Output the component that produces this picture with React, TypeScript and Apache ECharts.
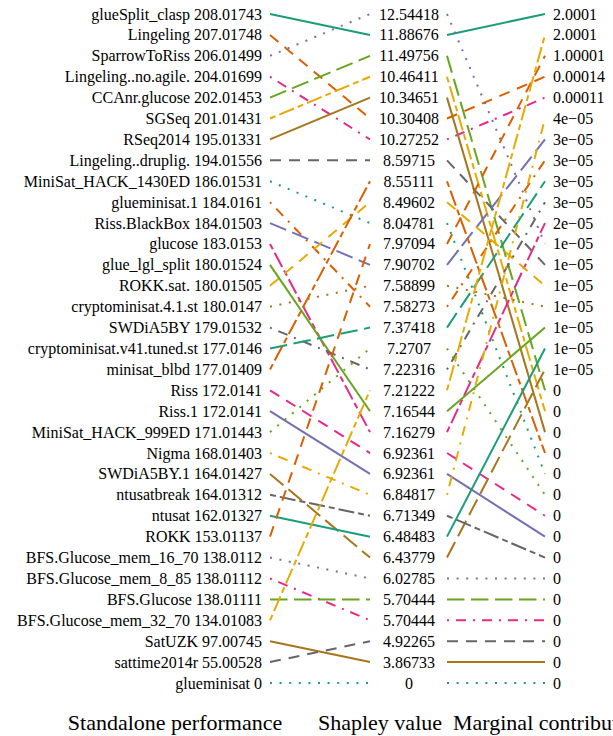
import React, { useEffect, useRef } from "react";
import * as echarts from "echarts";

// Solvers in order of standalone performance (top to bottom)
const solvers = [
  "glueSplit_clasp", "Lingeling", "SparrowToRiss", "Lingeling..no.agile.", "CCAnr.glucose",
  "SGSeq", "RSeq2014", "Lingeling..druplig.", "MiniSat_HACK_1430ED", "glueminisat.1",
  "Riss.BlackBox", "glucose", "glue_lgl_split", "ROKK.sat.", "cryptominisat.4.1.st",
  "SWDiA5BY", "cryptominisat.v41.tuned.st", "minisat_blbd", "Riss", "Riss.1",
  "MiniSat_HACK_999ED", "Nigma", "SWDiA5BY.1", "ntusatbreak", "ntusat",
  "ROKK", "BFS.Glucose_mem_16_70", "BFS.Glucose_mem_8_85", "BFS.Glucose", "BFS.Glucose_mem_32_70",
  "SatUZK", "sattime2014r", "glueminisat",
];

const standalone = [
  208.01743, 207.01748, 206.01499, 204.01699, 202.01453,
  201.01431, 195.01331, 194.01556, 186.01531, 184.0161,
  184.01503, 183.0153, 180.01524, 180.01505, 180.0147,
  179.01532, 177.0146, 177.01409, 172.0141, 172.0141,
  171.01443, 168.01403, 164.01427, 164.01312, 162.01327,
  153.01137, 138.0112, 138.01112, 138.01111, 134.01083,
  97.00745, 55.00528, 0,
];

// Shapley value of each solver and its rank position in the Shapley column
const shapley = [
  11.88676, 10.30408, 12.54418, 10.27252, 11.49756,
  10.46411, 10.34651, 8.59715, 8.04781, 7.58273,
  7.90702, 7.16279, 7.16544, 8.49602, 7.58899,
  7.22316, 7.37418, 8.55111, 6.92361, 6.92361,
  7.2707, 6.84817, 6.43779, 6.71349, 6.48483,
  7.97094, 6.02785, 5.70444, 5.70444, 7.21222,
  3.86733, 4.92265, 0,
];
const shapleyRank = [
  1, 5, 0, 6, 2,
  3, 4, 7, 10, 14,
  12, 20, 19, 9, 13,
  17, 15, 8, 21, 22,
  16, 23, 26, 24, 25,
  11, 27, 29, 28, 18,
  31, 30, 32,
];

// Marginal contribution of each solver and its rank position in the marginal column
const marginal = [
  2.0001, 0.00014, 1e-5, 0.00011, 0,
  0, 0, 1e-5, 0, 3e-5,
  3e-5, 2e-5, 1e-5, 1e-5, 1e-5,
  3e-5, 3e-5, 0, 0, 0,
  0, 4e-5, 1e-5, 0, 1e-5,
  1.00001, 0, 0, 0, 2.0001,
  0, 0, 0,
];
const marginalRank = [
  0, 3, 11, 4, 18,
  19, 20, 12, 22, 7,
  6, 10, 15, 13, 14,
  9, 8, 21, 24, 25,
  23, 5, 17, 26, 16,
  2, 27, 29, 28, 1,
  31, 30, 32,
];

const columnTitles = ["Standalone performance", "Shapley value", "Marginal contribution"];

const palette = ["#1B9E77", "#D95F02", "#7570B3", "#E7298A", "#66A61E", "#E6AB02", "#A6761D", "#666666"];
const dashPatterns: any[] = ["solid", [11, 8], [2, 7.6], [2, 7, 10, 7], [17.5, 6.5], [6, 4, 16, 4]];

function fmtMarginal(v: number): string {
  if (v === 0) return "0";
  if (v < 1e-4) {
    const [m, e] = v.toExponential().split("e");
    const n = parseInt(e, 10);
    return m + "e" + (n < 0 ? "\u2212" : "+") + String(Math.abs(n)).padStart(2, "0");
  }
  return String(v);
}

const FONT = "'Liberation Serif', 'DejaVu Serif', 'Times New Roman', serif";

export default function App() {
  const ref = useRef<HTMLDivElement>(null);
  useEffect(() => {
    if (!ref.current) return;
    const chart = echarts.init(ref.current, undefined, { renderer: "svg" });
    const n = solvers.length;
    const leftLabels = solvers.map((s, i) => s + " " + String(standalone[i]));
    const shapleyLabels: string[] = new Array(n).fill("");
    const marginalLabels: string[] = new Array(n).fill("");
    for (let i = 0; i < n; i++) {
      shapleyLabels[shapleyRank[i]] = String(shapley[i]);
      marginalLabels[marginalRank[i]] = fmtMarginal(marginal[i]);
    }
    const catAxis = (gridIndex: number, data: string[], position: string, margin: number, align: string) => ({
      type: "category",
      gridIndex,
      data,
      position,
      inverse: true,
      boundaryGap: false,
      axisLine: { show: false },
      axisTick: { show: false },
      splitLine: { show: false },
      axisLabel: {
        interval: 0,
        margin,
        align,
        fontFamily: FONT,
        fontSize: 16,
        color: "#000",
      },
    });
    const series: any[] = [];
    for (let i = 0; i < n; i++) {
      const si = i === 18 ? 19 : i === 19 ? 18 : i;
      const lineStyle = {
        color: palette[si % 8],
        width: 2,
        type: dashPatterns[si % 6],
        cap: "butt",
      };
      series.push({
        type: "line",
        xAxisIndex: 0,
        yAxisIndex: 0,
        data: [[0, i], [1, shapleyRank[i]]],
        symbol: "none",
        silent: true,
        lineStyle,
      });
      series.push({
        type: "line",
        xAxisIndex: 1,
        yAxisIndex: 2,
        data: [[0, shapleyRank[i]], [1, marginalRank[i]]],
        symbol: "none",
        silent: true,
        lineStyle,
      });
    }
    const titleStyle = { fontFamily: FONT, fontSize: 22, fill: "#000", verticalAlign: "middle" };
    chart.setOption({
      animation: false,
      backgroundColor: "#fff",
      grid: [
        { left: 270, top: 14, width: 100, height: 669 },
        { left: 447, top: 14, width: 98, height: 669 },
      ],
      xAxis: [
        { type: "value", gridIndex: 0, min: 0, max: 1, show: false },
        { type: "value", gridIndex: 1, min: 0, max: 1, show: false },
      ],
      yAxis: [
        catAxis(0, leftLabels, "left", 8, "right"),
        catAxis(0, shapleyLabels, "right", 39, "center"),
        catAxis(1, marginalLabels, "right", 8, "left"),
      ],
      series,
      graphic: [
        { type: "text", x: 175, y: 722, style: { ...titleStyle, text: columnTitles[0], align: "center" } },
        { type: "text", x: 380, y: 722, style: { ...titleStyle, text: columnTitles[1], align: "center" } },
        { type: "text", x: 453, y: 722, style: { ...titleStyle, text: columnTitles[2], align: "left" } },
      ],
    });
    return () => chart.dispose();
  }, []);
  return <div ref={ref} style={{ position: "fixed", left: 0, top: 0, width: 613, height: 736 }} />;
}
